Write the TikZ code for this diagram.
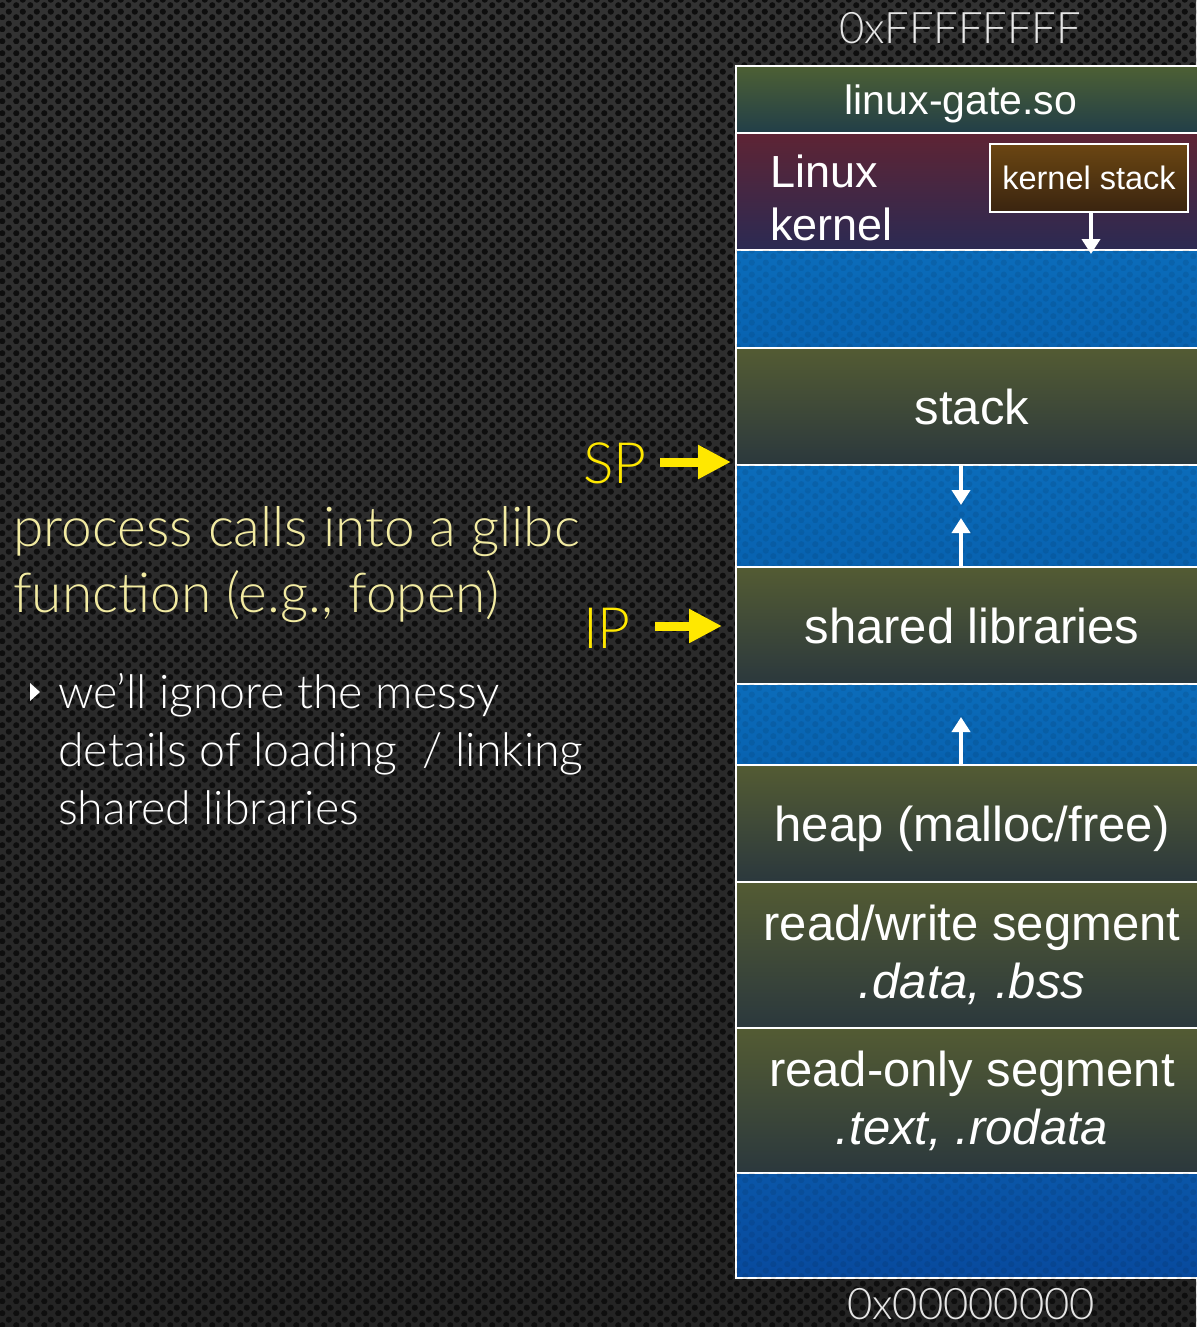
\documentclass[tikz,border=0pt]{standalone}
\usepackage{fontspec}
\setmainfont{Liberation Sans}
\IfFontExistsTF{Lato Light}{\newfontfamily\lightfont{Lato Light}}{\newfontfamily\lightfont{Lato}}
\usetikzlibrary{arrows.meta, positioning, patterns.meta}

\definecolor{bgtop}{HTML}{323232}
\definecolor{bgbot}{HTML}{242424}
\definecolor{holecol}{HTML}{0E0E0E}
\definecolor{olivetop}{HTML}{535B33}
\definecolor{olivebot}{HTML}{2B383D}
\definecolor{gatetop}{HTML}{4D6034}
\definecolor{gatebot}{HTML}{213E48}
\definecolor{kerntop}{HTML}{5E2434}
\definecolor{kernbot}{HTML}{2B2A53}
\definecolor{freetop}{HTML}{0B6CBA}
\definecolor{freebot}{HTML}{0862B0}
\definecolor{lowtop}{HTML}{0A56A8}
\definecolor{lowbot}{HTML}{084A9E}
\definecolor{ksttop}{HTML}{6B4612}
\definecolor{kstbot}{HTML}{3A2410}
\definecolor{ptryellow}{HTML}{FFE800}
\definecolor{notecream}{HTML}{F2EBA2}
\definecolor{hexgray}{HTML}{E6E6E6}

\tikzdeclarepattern{
  name=holes,
  type=uncolored,
  bounding box={(0pt,0pt) and (14pt,12pt)},
  tile size={(14pt,12pt)},
  code={
    \pgfpathcircle{\pgfpoint{3.5pt}{3pt}}{3.3pt}
    \pgfpathcircle{\pgfpoint{10.5pt}{9pt}}{3.3pt}
    \pgfusepath{fill}
  }
}

\begin{document}
\begin{tikzpicture}[x=1pt, y=-1pt,
    segbox/.style={draw=white, line width=2pt, outer sep=0pt, inner sep=0pt,
                   minimum width=472pt, text=white, align=center,
                   font=\fontsize{49}{58}\selectfont,
                   top color=olivetop, bottom color=olivebot},
    freebox/.style={segbox, top color=freetop, bottom color=freebot,
                    postaction={pattern=holes, pattern color=black,
                                fill opacity=0.08}},
    kstackbox/.style={draw=white, line width=2pt, inner sep=0pt,
                      minimum width=198pt, minimum height=68pt,
                      top color=ksttop, bottom color=kstbot, text=white,
                      font=\fontsize{32.5}{38}\selectfont},
    growarrow/.style={draw=white, line width=4pt,
                      -{Triangle[length=15pt, width=18pt]}},
    ptr/.style={draw=ptryellow, line width=9pt,
                -{Triangle[length=33pt, width=32pt]}},
    ptrlabel/.style={text=ptryellow, inner sep=0pt,
                     font=\lightfont\fontsize{57}{62}\selectfont},
    hexlabel/.style={text=hexgray, inner sep=0pt,
                     font=\lightfont\fontsize{43.5}{50}\selectfont},
    note/.style={anchor=north west, align=left, inner sep=0pt}
  ]
  \useasboundingbox (0,0) rectangle (1196,1327);

  % background mesh
  \fill[top color=bgtop, bottom color=bgbot] (0,0) rectangle (1196,1327);
  \fill[pattern=holes, pattern color=holecol] (0,0) rectangle (1196,1327);

  % memory layout, top to bottom
  \node[segbox, anchor=north west, minimum height=67pt, text depth=0pt,
        top color=gatetop, bottom color=gatebot,
        font=\fontsize{41}{48}\selectfont] (gate) at (736,66)
    {linux-gate.so\hspace*{22pt}};
  \node[segbox, minimum height=117pt, below=0pt of gate,
        top color=kerntop, bottom color=kernbot] (kernel) {};
  \node[freebox, minimum height=98pt, below=0pt of kernel] (free1) {};
  \node[segbox, minimum height=117pt, below=0pt of free1] (stack) {stack};
  \node[freebox, minimum height=102pt, below=0pt of stack] (free2) {};
  \node[segbox, minimum height=117pt, below=0pt of free2] (shlib) {shared libraries};
  \node[freebox, minimum height=81pt, below=0pt of shlib] (free3) {};
  \node[segbox, minimum height=117pt, below=0pt of free3, text depth=0pt]
    (heap) {heap (malloc/free)};
  \node[segbox, minimum height=146pt, below=0pt of heap] (rwseg)
    {read/write segment\\{\itshape .data, .bss}};
  \node[segbox, minimum height=145pt, below=0pt of rwseg] (roseg)
    {read-only segment\\{\itshape .text, .rodata}};
  \node[freebox, minimum height=105pt, below=0pt of roseg,
        top color=lowtop, bottom color=lowbot] (free4) {};

  % kernel part
  \node[note, text=white, font=\fontsize{45}{53}\selectfont]
    (kernlabel) at (770,155) {Linux\\kernel};
  \node[kstackbox] (kstack) at (1089,178) {kernel stack};
  \coordinate (kstacktip) at (1091,254);
  \draw[growarrow] (kstacktip |- kstack.south) -- (kstacktip);

  % growth directions
  \coordinate (stackdn) at (961,505);
  \coordinate (stackup) at (961,518);
  \coordinate (heapup) at (961,717);
  \draw[growarrow] (stackdn |- stack.south) -- (stackdn);
  \draw[growarrow] (stackup |- shlib.north) -- (stackup);
  \draw[growarrow] (heapup |- heap.north) -- (heapup);

  % address labels
  \node[hexlabel] (hightop) at (960,28) {0xFFFFFFFF};
  \node[hexlabel] (lowbottom) at (971,1304) {0x00000000};

  % registers
  \node[ptrlabel] (sp) at (615,463) {SP};
  \coordinate (sptip) at (731,462);
  \draw[ptr, shorten <=13pt] (sp.east |- sptip) -- (sptip);
  \node[ptrlabel] (ip) at (607,628) {IP};
  \coordinate (iptip) at (722,626);
  \draw[ptr, shorten <=24pt] (ip.east |- iptip) -- (iptip);

  % explanation
  \node[note, text=notecream, font=\lightfont\fontsize{55}{66}\selectfont]
    (callnote) at (13,506) {process calls into a glibc\\function (e.g., fopen)};
  \fill[white] (30,683) -- (40,692) -- (30,701) -- cycle;
  \node[note, text=white, font=\lightfont\fontsize{46.5}{58}\selectfont]
    (ignorenote) at (58,673)
    {we’ll ignore the messy\\details of loading \ / linking\\shared libraries};
\end{tikzpicture}
\end{document}
